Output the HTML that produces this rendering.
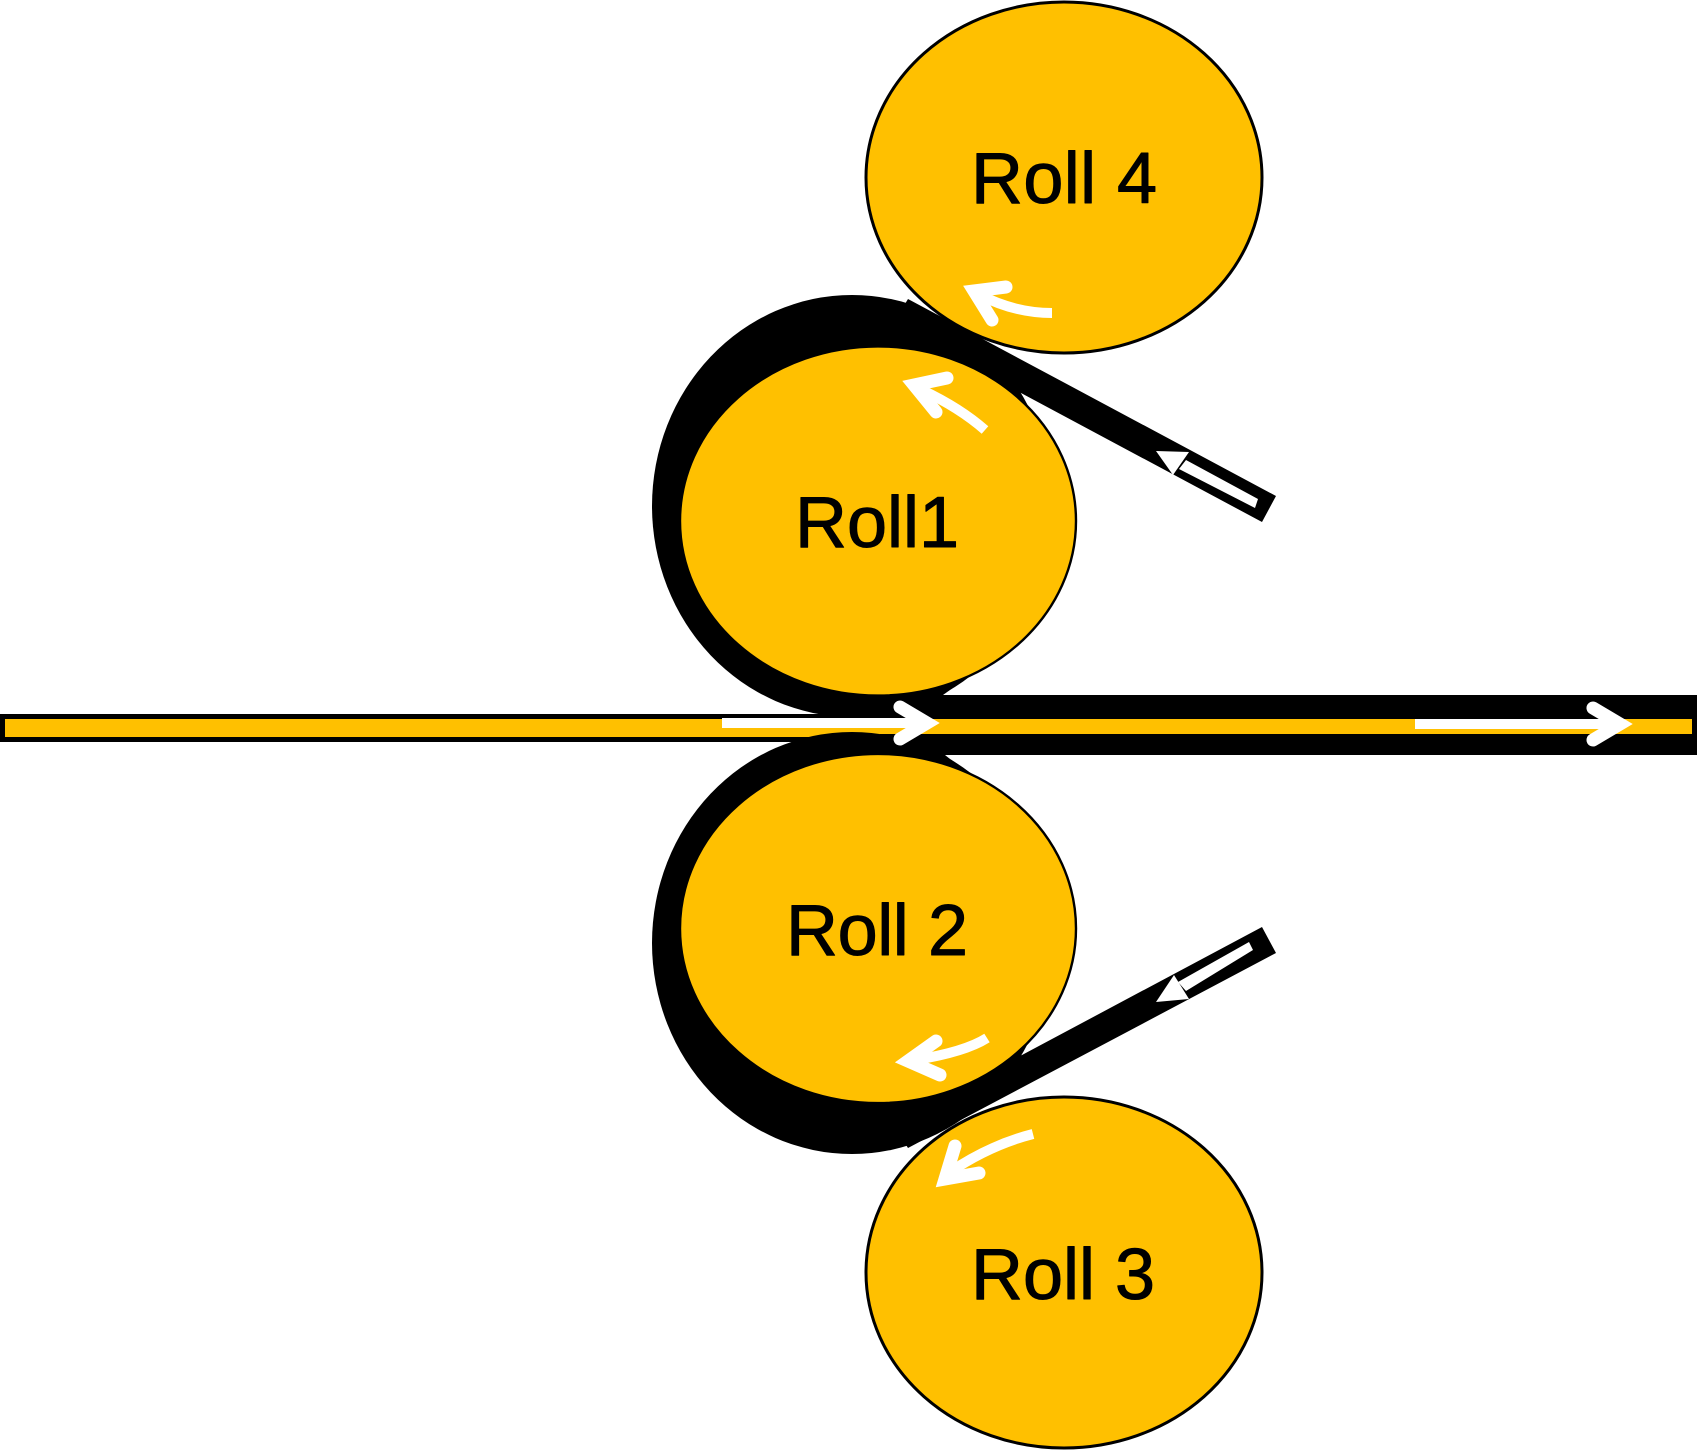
<!DOCTYPE html>
<html><head><meta charset="utf-8"><style>html,body{margin:0;padding:0;background:#fff}svg{display:block}text{font-family:"Liberation Sans",sans-serif;font-size:72px;fill:#000;stroke:#000;stroke-width:1;stroke-linejoin:round}</style></head>
<body>
<svg width="1697" height="1450" viewBox="0 0 1697 1450" xmlns="http://www.w3.org/2000/svg">
<!-- thin incoming strip -->
<rect x="0" y="714" width="1000" height="28" fill="#000"/>
<rect x="5" y="719" width="1000" height="18" fill="#FFC000"/>
<!-- thick outgoing strip -->
<rect x="880" y="695" width="817" height="60" fill="#000"/>
<rect x="880" y="719" width="812" height="15" fill="#FFC000"/>
<!-- wrapped strips -->
<ellipse cx="852" cy="506" rx="200" ry="211" fill="#000"/>
<rect x="700" y="719" width="300" height="13" fill="#FFC000"/>
<ellipse cx="852" cy="943" rx="200" ry="211" fill="#000"/>
<polygon points="908,299 1276,496 1262,522 1021,393 880,345" fill="#000"/>
<polygon points="908,1148 1276,953 1262,927 1022,1055 880,1105" fill="#000"/>
<polygon points="880,700 943,695 968,677 900,670" fill="#000"/>
<polygon points="880,750 945,755 950,759 975,776 900,790" fill="#000"/>
<!-- rolls -->
<ellipse cx="1064" cy="177.5" rx="198" ry="175.5" fill="#FFC000" stroke="#000" stroke-width="3"/>
<ellipse cx="1064" cy="1272.5" rx="198" ry="175.5" fill="#FFC000" stroke="#000" stroke-width="3"/>
<ellipse cx="878" cy="521" rx="198" ry="174.6" fill="#FFC000" stroke="#000" stroke-width="2.4"/>
<ellipse cx="878" cy="928.5" rx="198" ry="174.6" fill="#FFC000" stroke="#000" stroke-width="2.4"/>
<!-- labels -->
<text x="971" y="203" textLength="186" lengthAdjust="spacing">Roll 4</text>
<text x="795" y="547" textLength="164" lengthAdjust="spacing">Roll1</text>
<text x="786" y="955" textLength="182" lengthAdjust="spacing">Roll 2</text>
<text x="971" y="1299" textLength="184" lengthAdjust="spacing">Roll 3</text>
<!-- white arrows inside strips -->
<g fill="#fff">
<polygon points="1156,451 1189,452 1173,475"/>
<polygon points="1186,460 1258,499 1255,508 1179,469"/>
<polygon points="1156,1002 1189,999 1174,975"/>
<polygon points="1178,982 1249,942 1253,950 1186,991"/>
</g>
<g fill="none" stroke="#fff" stroke-width="13" stroke-linejoin="miter" stroke-miterlimit="6">
<path d="M722 723H930" stroke-width="10"/>
<polyline points="900,707 927,723 900,739" stroke-linecap="round"/>
<path d="M1415 724H1622" stroke-width="10"/>
<polyline points="1593,708 1620,724 1593,740" stroke-linecap="round"/>
<path d="M1052 313Q1015 313 980 295" stroke-width="10"/>
<polyline points="1006,287 974,291 992,320" stroke-linecap="round"/>
<path d="M985 430Q960 408 922 390" stroke-width="10"/>
<polyline points="947,378 914,385 936,412" stroke-linecap="round"/>
<path d="M987 1038Q965 1052 915 1060" stroke-width="10"/>
<polyline points="936,1041 908,1061 940,1075" stroke-linecap="round"/>
<path d="M1033 1134Q990 1145 950 1172" stroke-width="10"/>
<polyline points="955,1146 945,1179 979,1173" stroke-linecap="round"/>
</g>
</svg>
</body></html>
